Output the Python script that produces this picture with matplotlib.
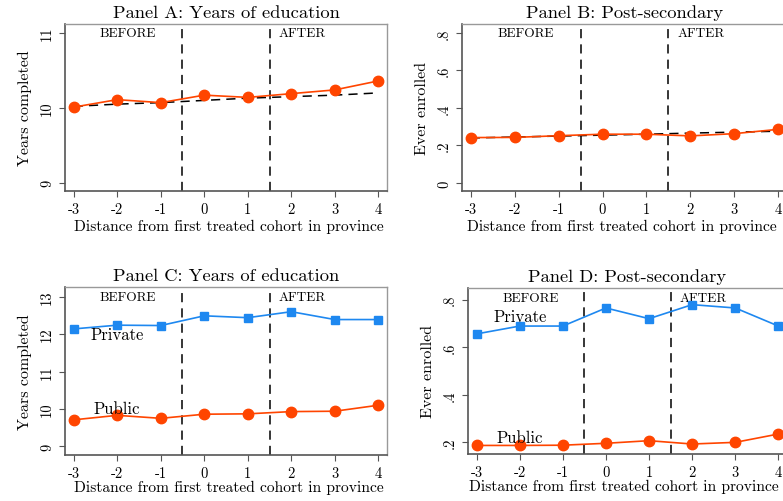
import matplotlib
matplotlib.use("Agg")
import matplotlib.pyplot as plt

x = [-3, -2, -1, 0, 1, 2, 3, 4]
xtick_labels = ["-3", "-2", "-1", "0", "1", "2", "3", "4"]

# Panel A
a_edu = [10.01, 10.11, 10.07, 10.17, 10.14, 10.19, 10.24, 10.36]
a_trend = [10.02, 10.05, 10.07, 10.10, 10.13, 10.15, 10.17, 10.20]
# Panel B
b_enr = [0.242, 0.243, 0.252, 0.260, 0.260, 0.251, 0.263, 0.286]
b_trend = [0.240, 0.245, 0.250, 0.255, 0.260, 0.266, 0.271, 0.276]
# Panel C
c_private = [12.14, 12.24, 12.23, 12.49, 12.44, 12.60, 12.39, 12.39]
c_public = [9.71, 9.83, 9.75, 9.86, 9.87, 9.93, 9.94, 10.10]
# Panel D
d_private = [0.656, 0.689, 0.689, 0.765, 0.720, 0.779, 0.765, 0.689]
d_public = [0.187, 0.187, 0.188, 0.196, 0.207, 0.193, 0.200, 0.235]

titles = ["Panel A: Years of education", "Panel B: Post-secondary",
          "Panel C: Years of education", "Panel D: Post-secondary"]
xlabel = "Distance from first treated cohort in province"
ylabels = ["Years completed", "Ever enrolled", "Years completed", "Ever enrolled"]
yticks_edu_ab = [9, 10, 11]
yticks_edu_c = [9, 10, 11, 12, 13]
yticks_enr_b = [0, 0.2, 0.4, 0.6, 0.8]
yticks_enr_d = [0.2, 0.4, 0.6, 0.8]

def fmt_share(v):
    return "0" if v == 0 else ("%.1f" % v).lstrip("0")

RED = "#FF4500"
BLUE = "#1E88F0"
FONT = "cmr10"
plt.rcParams["font.family"] = FONT
plt.rcParams["axes.unicode_minus"] = False

fig = plt.figure(figsize=(7.83, 5.02), dpi=100)
W, H = 783.0, 502.0

def make_ax(l, r, t, b):
    return fig.add_axes([l / W, 1 - b / H, (r - l) / W, (b - t) / H])

axA = make_ax(65, 387, 25, 192)
axB = make_ax(462, 787, 25, 192)
axC = make_ax(65, 387, 288, 456)
axD = make_ax(468, 787, 289, 455)

def style(ax, title, ylabel, yticks, ylabels_txt, ylim, xlim, before_y, xlab_x, xlab_y):
    ax.set_xlim(*xlim)
    ax.set_ylim(*ylim)
    ax.set_xticks(x)
    ax.set_xticklabels(xtick_labels, fontsize=10.5)
    ax.set_yticks(yticks)
    ax.set_yticklabels(ylabels_txt, fontsize=10.5, rotation=90, va="center")
    ax.set_title(title, fontsize=13.3, pad=5)
    ax.set_xlabel(xlabel, fontsize=11.2)
    ax.xaxis.set_label_coords(xlab_x, xlab_y)
    ax.xaxis.label.set_va("center")
    ax.set_ylabel(ylabel, fontsize=11.5, labelpad=6)
    for s in ["left", "bottom"]:
        ax.spines[s].set_color("#555555")
        ax.spines[s].set_linewidth(1.2)
    for s in ["top", "right"]:
        ax.spines[s].set_color("#999999")
        ax.spines[s].set_linewidth(1.0)
    ax.tick_params(axis="both", length=4, color="#555555", pad=4)
    for xv in (-0.5, 1.5):
        ax.axvline(xv, color="black", lw=1.1, ls=(0, (6, 4)), zorder=1)
    ax.text(-1.75, before_y, "BEFORE", fontsize=9.6, ha="center", va="center")
    ax.text(2.25, before_y, "AFTER", fontsize=9.6, ha="center", va="center")

style(axA, titles[0], ylabels[0], yticks_edu_ab, [str(v) for v in yticks_edu_ab],
      (8.89, 11.12), (-3.2, 4.2), 11.0, 0.51, -0.21)
axA.plot(x, a_trend, color="black", lw=1.1, ls=(0, (6, 4)), zorder=2)
axA.plot(x, a_edu, color=RED, lw=1.2, marker="o", ms=7.5, zorder=3)

style(axB, titles[1], ylabels[1], yticks_enr_b, [fmt_share(v) for v in yticks_enr_b],
      (-0.043, 0.848), (-3.2, 4.2), 0.8, 0.493, -0.21)
axB.plot(x, b_trend, color="black", lw=1.1, ls=(0, (6, 4)), zorder=2)
axB.plot(x, b_enr, color=RED, lw=1.2, marker="o", ms=7.5, zorder=3)

style(axC, titles[2], ylabels[2], yticks_edu_c, [str(v) for v in yticks_edu_c],
      (8.77, 13.26), (-3.2, 4.2), 13.0, 0.51, -0.19)
axC.plot(x, c_private, color=BLUE, lw=1.2, marker="s", ms=6, zorder=3)
axC.plot(x, c_public, color=RED, lw=1.2, marker="o", ms=7.5, zorder=3)
axC.text(-2.0, 12.0, "Private", fontsize=12, ha="center", va="center")
axC.text(-2.0, 10.02, "Public", fontsize=12, ha="center", va="center")

style(axD, titles[3], ylabels[3], yticks_enr_d, [fmt_share(v) for v in yticks_enr_d],
      (0.151, 0.849), (-3.2, 4.2), 0.806, 0.49, -0.195)
axD.plot(x, d_private, color=BLUE, lw=1.2, marker="s", ms=6, zorder=3)
axD.plot(x, d_public, color=RED, lw=1.2, marker="o", ms=7.5, zorder=3)
axD.text(-2.0, 0.73, "Private", fontsize=12, ha="center", va="center")
axD.text(-2.0, 0.223, "Public", fontsize=12, ha="center", va="center")

fig.savefig("out.png", dpi=100)
